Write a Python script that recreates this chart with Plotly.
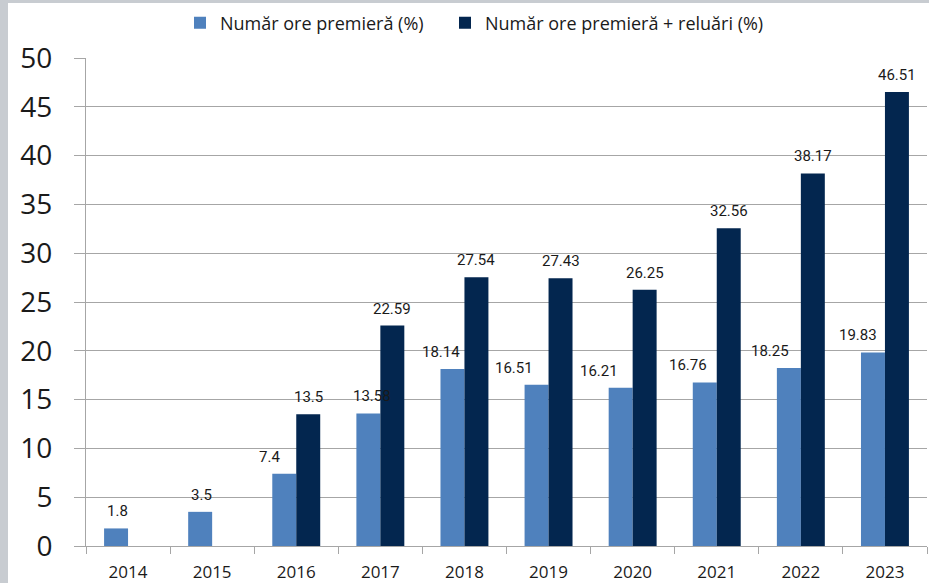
import plotly.graph_objects as go

years = ["2014", "2015", "2016", "2017", "2018", "2019", "2020", "2021", "2022", "2023"]
premiera = [1.8, 3.5, 7.4, 13.58, 18.14, 16.51, 16.21, 16.76, 18.25, 19.83]
premiera_reluari = [None, None, 13.5, 22.59, 27.54, 27.43, 26.25, 32.56, 38.17, 46.51]
name1 = "Număr ore premieră (%)"
name2 = "Număr ore premieră + reluări (%)"

# manual horizontal nudges (px) of the first series' value labels, as in the original
label_nudge1 = [1, 1, -15, 4, -11, -23, -22, -17, -19, -15]

W, H = 929, 583
L, R, T, B = 86, 2, 58, 37
pw, ph = W - L - R, H - T - B

def px_x(x):
    return (x - L) / pw

def px_y(y):
    return 1 - (y - T) / ph

lab_font = dict(family="Roboto, Open Sans, sans-serif", size=15, color="#1a1a1a")
c1, c2 = "#4f81bd", "#03264f"
bargap = 0.43
cat_w = pw / len(years)
bar_w = cat_w * (1 - bargap) / 2

fig = go.Figure()
fig.add_trace(go.Bar(x=years, y=premiera, name=name1, legend="legend",
                     marker=dict(color=c1, line=dict(width=0))))
fig.add_trace(go.Bar(x=years, y=premiera_reluari, name=name2, legend="legend2",
                     marker=dict(color=c2, line=dict(width=0))))

# value labels drawn on top of all bars (x given as category index)
for i, v in enumerate(premiera):
    fig.add_annotation(x=i, y=v, xref="x", yref="y", text=str(v), showarrow=False,
                       xanchor="center", yanchor="bottom", xshift=-bar_w / 2 + label_nudge1[i], yshift=6,
                       font=lab_font)
for i, v in enumerate(premiera_reluari):
    if v is None:
        continue
    fig.add_annotation(x=i, y=v, xref="x", yref="y", text=str(v), showarrow=False,
                       xanchor="center", yanchor="bottom", xshift=bar_w / 2, yshift=6,
                       font=lab_font)

grid = "#a6a6a6"
leg_font = dict(family="Open Sans, sans-serif", size=18, color="#1a1a1a")
leg_common = dict(orientation="h", xref="container", yref="container", xanchor="left",
                  y=1 - 23 / H, yanchor="middle", font=leg_font, bgcolor="rgba(0,0,0,0)")
fig.update_layout(
    width=W, height=H,
    margin=dict(l=L, r=R, t=T, b=B, pad=0, autoexpand=False),
    paper_bgcolor="white", plot_bgcolor="white",
    barmode="group", bargap=bargap, bargroupgap=0,
    showlegend=True,
    legend=dict(x=180 / W, **leg_common),
    legend2=dict(x=445 / W, **leg_common),
    xaxis=dict(type="category", range=[-0.5, len(years) - 0.5],
               showline=True, linecolor=grid, linewidth=1,
               ticks="outside", tickson="boundaries", ticklen=7, tickcolor=grid,
               ticklabelstandoff=11,
               showgrid=False, automargin=False,
               tickfont=dict(family="Open Sans, sans-serif", size=17, color="#1a1a1a")),
    yaxis=dict(range=[0, 50], dtick=5, showline=True, linecolor=grid, linewidth=1,
               showgrid=True, gridcolor=grid, gridwidth=1, automargin=False,
               zeroline=True, zerolinecolor=grid, zerolinewidth=1,
               ticks="outside", ticklen=11, tickcolor=grid, ticklabelstandoff=16,
               tickfont=dict(family="Open Sans, sans-serif", size=28, color="#1a1a1a")),
    font=dict(family="Open Sans, sans-serif"),
)

border = "#c8ccd1"
fig.add_shape(type="rect", xref="paper", yref="paper",
              x0=px_x(0), x1=px_x(8), y0=px_y(H), y1=px_y(0),
              fillcolor=border, line=dict(width=0), layer="above")
fig.add_shape(type="rect", xref="paper", yref="paper",
              x0=px_x(0), x1=px_x(W), y0=px_y(3), y1=px_y(0),
              fillcolor=border, line=dict(width=0), layer="above")

fig.write_html("out.html", config={"displayModeBar": False},
               post_script="document.body.style.margin='0';document.body.style.overflow='hidden';")
